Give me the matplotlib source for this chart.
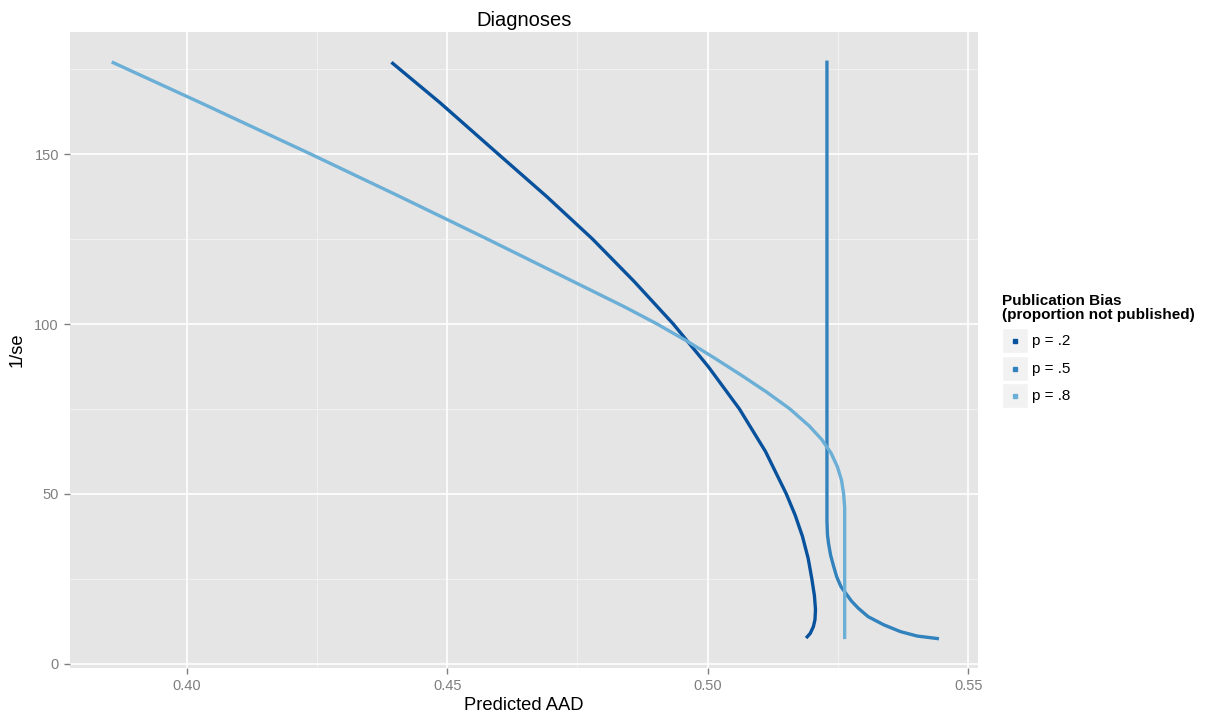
import matplotlib.pyplot as plt
from matplotlib.patches import Rectangle

plt.rcParams['font.family'] = ['Liberation Sans', 'DejaVu Sans']

# values: (Predicted AAD, 1/se) per curve
aad_p2 = [0.4393, 0.4487, 0.4598, 0.4691, 0.4779, 0.4859, 0.4934, 0.5001, 0.5061,
          0.5111, 0.5151, 0.5168, 0.5182, 0.5193, 0.5200, 0.5205, 0.5207, 0.5206,
          0.5203, 0.5197, 0.5189]
inv_se_p2 = [177.0, 165.0, 150.0, 137.5, 125.0, 112.5, 100.0, 87.5, 75.0,
             62.5, 50.0, 43.75, 37.5, 31.0, 25.0, 20.0, 16.0, 13.0,
             11.0, 9.0, 7.6]

aad_p5 = [0.5229, 0.5229, 0.5230, 0.5232, 0.5236, 0.5242, 0.5248, 0.5256, 0.5265,
          0.5276, 0.5289, 0.5308, 0.5338, 0.5370, 0.5402, 0.5444]
inv_se_p5 = [177.5, 42.0, 38.0, 35.5, 32.0, 28.6, 25.5, 22.7, 20.8,
             18.5, 16.4, 13.9, 11.5, 9.5, 8.2, 7.4]

aad_p8 = [0.3856, 0.4028, 0.4238, 0.4409, 0.4577, 0.4742, 0.4841, 0.4903, 0.4960,
          0.5013, 0.5064, 0.5113, 0.5158, 0.5195, 0.5219, 0.5237, 0.5249, 0.5257,
          0.5261, 0.5263, 0.5263]
inv_se_p8 = [177.1, 165.0, 150.0, 137.5, 125.0, 112.5, 105.0, 100.0, 95.0,
             90.0, 85.0, 80.0, 75.0, 70.0, 66.0, 62.0, 58.0, 54.0,
             50.0, 46.0, 7.3]

labels = ["p = .2", "p = .5", "p = .8"]
colors = ["#08519C", "#3182BD", "#6BAED6"]

x_ticks = [0.40, 0.45, 0.50, 0.55]
x_minor = [0.425, 0.475, 0.525]
y_ticks = [0, 50, 100, 150]
y_minor = [25, 75, 125, 175]

fig = plt.figure(figsize=(12.07, 7.23), dpi=100)
ax = fig.add_axes([0.058, 0.0761, 0.7523, 0.8796])
ax.set_facecolor('#E5E5E5')

for v in x_minor:
    ax.axvline(v, color='#F2F2F2', lw=0.7, zorder=0)
for v in y_minor:
    ax.axhline(v, color='#F2F2F2', lw=0.7, zorder=0)
for v in x_ticks:
    ax.axvline(v, color='white', lw=1.2, zorder=0)
for v in y_ticks:
    ax.axhline(v, color='white', lw=1.2, zorder=0)

series = [(aad_p2, inv_se_p2), (aad_p5, inv_se_p5), (aad_p8, inv_se_p8)]
for (xs, ys), col in zip(series, colors):
    ax.plot(xs, ys, color=col, lw=2.4, solid_capstyle='butt',
            solid_joinstyle='round', zorder=2)

ax.set_xlim(0.3776, 0.5519)
ax.set_ylim(-1.2, 185.9)
ax.set_xticks(x_ticks)
ax.set_xticklabels(["%.2f" % v for v in x_ticks])
ax.set_yticks(y_ticks)
for s in ax.spines.values():
    s.set_visible(False)
ax.tick_params(colors='#7F7F7F', labelcolor='#7F7F7F', labelsize=10.5,
               length=4, width=1, pad=4)

ax.set_title("Diagnoses", fontsize=14.5, pad=4)
ax.set_xlabel("Predicted AAD", fontsize=13.2, labelpad=3)
ax.set_ylabel("1/se", fontsize=13.2, labelpad=6)

# legend drawn by hand (ggplot-style keys)
W, H = 1207.0, 723.0
fig.text(1002 / W, 1 - 294 / H, "Publication Bias\n(proportion not published)",
         fontsize=11, fontweight='bold', va='top', ha='left', linespacing=1.0)
for i, (lab, col) in enumerate(zip(labels, colors)):
    top = 328 + i * 27.5
    fig.patches.append(Rectangle((1002.5 / W, 1 - (top + 25) / H), 25 / W, 25 / H,
                                 transform=fig.transFigure, facecolor='#F2F2F2',
                                 edgecolor='white', lw=1))
    fig.lines.append(plt.Line2D([1014.5 / W], [1 - (top + 13) / H], marker='s',
                                markersize=2.2, color=col, linestyle='',
                                transform=fig.transFigure))
    fig.text(1032 / W, 1 - (top + 13) / H, lab, fontsize=11, va='center', ha='left')

fig.savefig("out.png", dpi=100)
